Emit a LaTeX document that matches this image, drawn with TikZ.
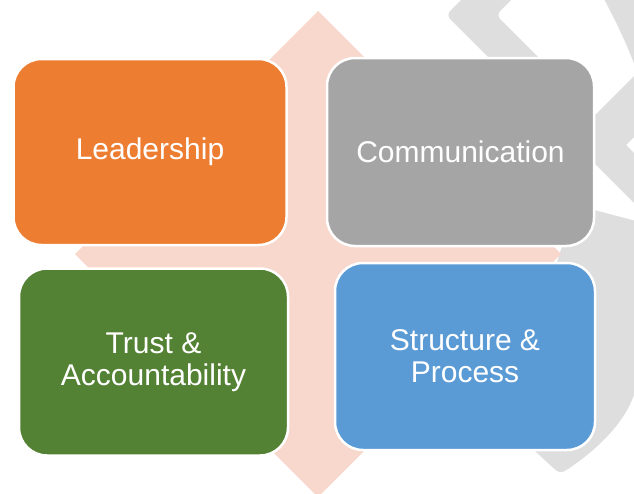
\documentclass[tikz,border=0pt]{standalone}
\usepackage{fontspec}
\setmainfont{Liberation Sans}
\definecolor{cOrange}{HTML}{ED7D31}
\definecolor{cGrey}{HTML}{A5A5A5}
\definecolor{cGreen}{HTML}{548235}
\definecolor{cBlue}{HTML}{5B9BD5}
\definecolor{cPink}{HTML}{F8D8CD}
\definecolor{cWm}{HTML}{DEDEDE}
\tikzset{
  card/.style={draw=white, line width=2.5pt, rounded corners=28pt, outer sep=0pt, anchor=north west},
  cardtext/.style={text=white, align=center, font=\fontsize{30}{32}\selectfont},
  wm/.style={fill=cWm, draw=none}
}
\begin{document}
\begin{tikzpicture}[x=1pt,y=-1pt]
\useasboundingbox (0,0) rectangle (634,493);
\begin{scope}
\clip (0,0) rectangle (634,493);
% watermark: upper chevron with its long lower arm
\fill[wm, rounded corners=6pt] (476,-15) -- (446,15) -- (700,269) -- (750,269) -- (496,15) -- (526,-15) -- cycle;
% second chevron arm going up-right
\fill[wm] (570.5,139.5) -- (650,60) -- (650,121) -- (626,145) -- cycle;
% top-right arc
\fill[wm] (602,-5) .. controls (615,20) and (628,45) .. (640,80) -- (640,-5) -- cycle;
% lower curved band ending in a tip
\fill[wm, rounded corners=5pt] (575,205) -- (640,222) .. controls (650,300) and (650,360) .. (634,395)
  .. controls (622,425) and (595,452) .. (560,474) -- (525,442) -- (545,300) -- cycle;
% diamond
\fill[cPink] (318,11) -- (561,254) -- (318,497) -- (75,254) -- cycle;
\end{scope}
% cards
\node[card, fill=cOrange, minimum width=273pt, minimum height=186pt] (lead) at (13.5,59) {};
\node[card, fill=cGrey, minimum width=267pt, minimum height=188pt] (comm) at (327,58) {};
\node[card, fill=cGreen, minimum width=269pt, minimum height=187pt] (trust) at (19,268.5) {};
\node[card, fill=cBlue, minimum width=260pt, minimum height=187pt] (struct) at (335,263) {};
\node[cardtext] (leadt) at (lead.center) {Leadership};
\node[cardtext] (commt) at (comm.center) {Communication};
\node[cardtext] (trustt) at (trust.center) {Trust \&\\Accountability};
\node[cardtext] (structt) at (struct.center) {Structure \&\\Process};
\end{tikzpicture}
\end{document}
